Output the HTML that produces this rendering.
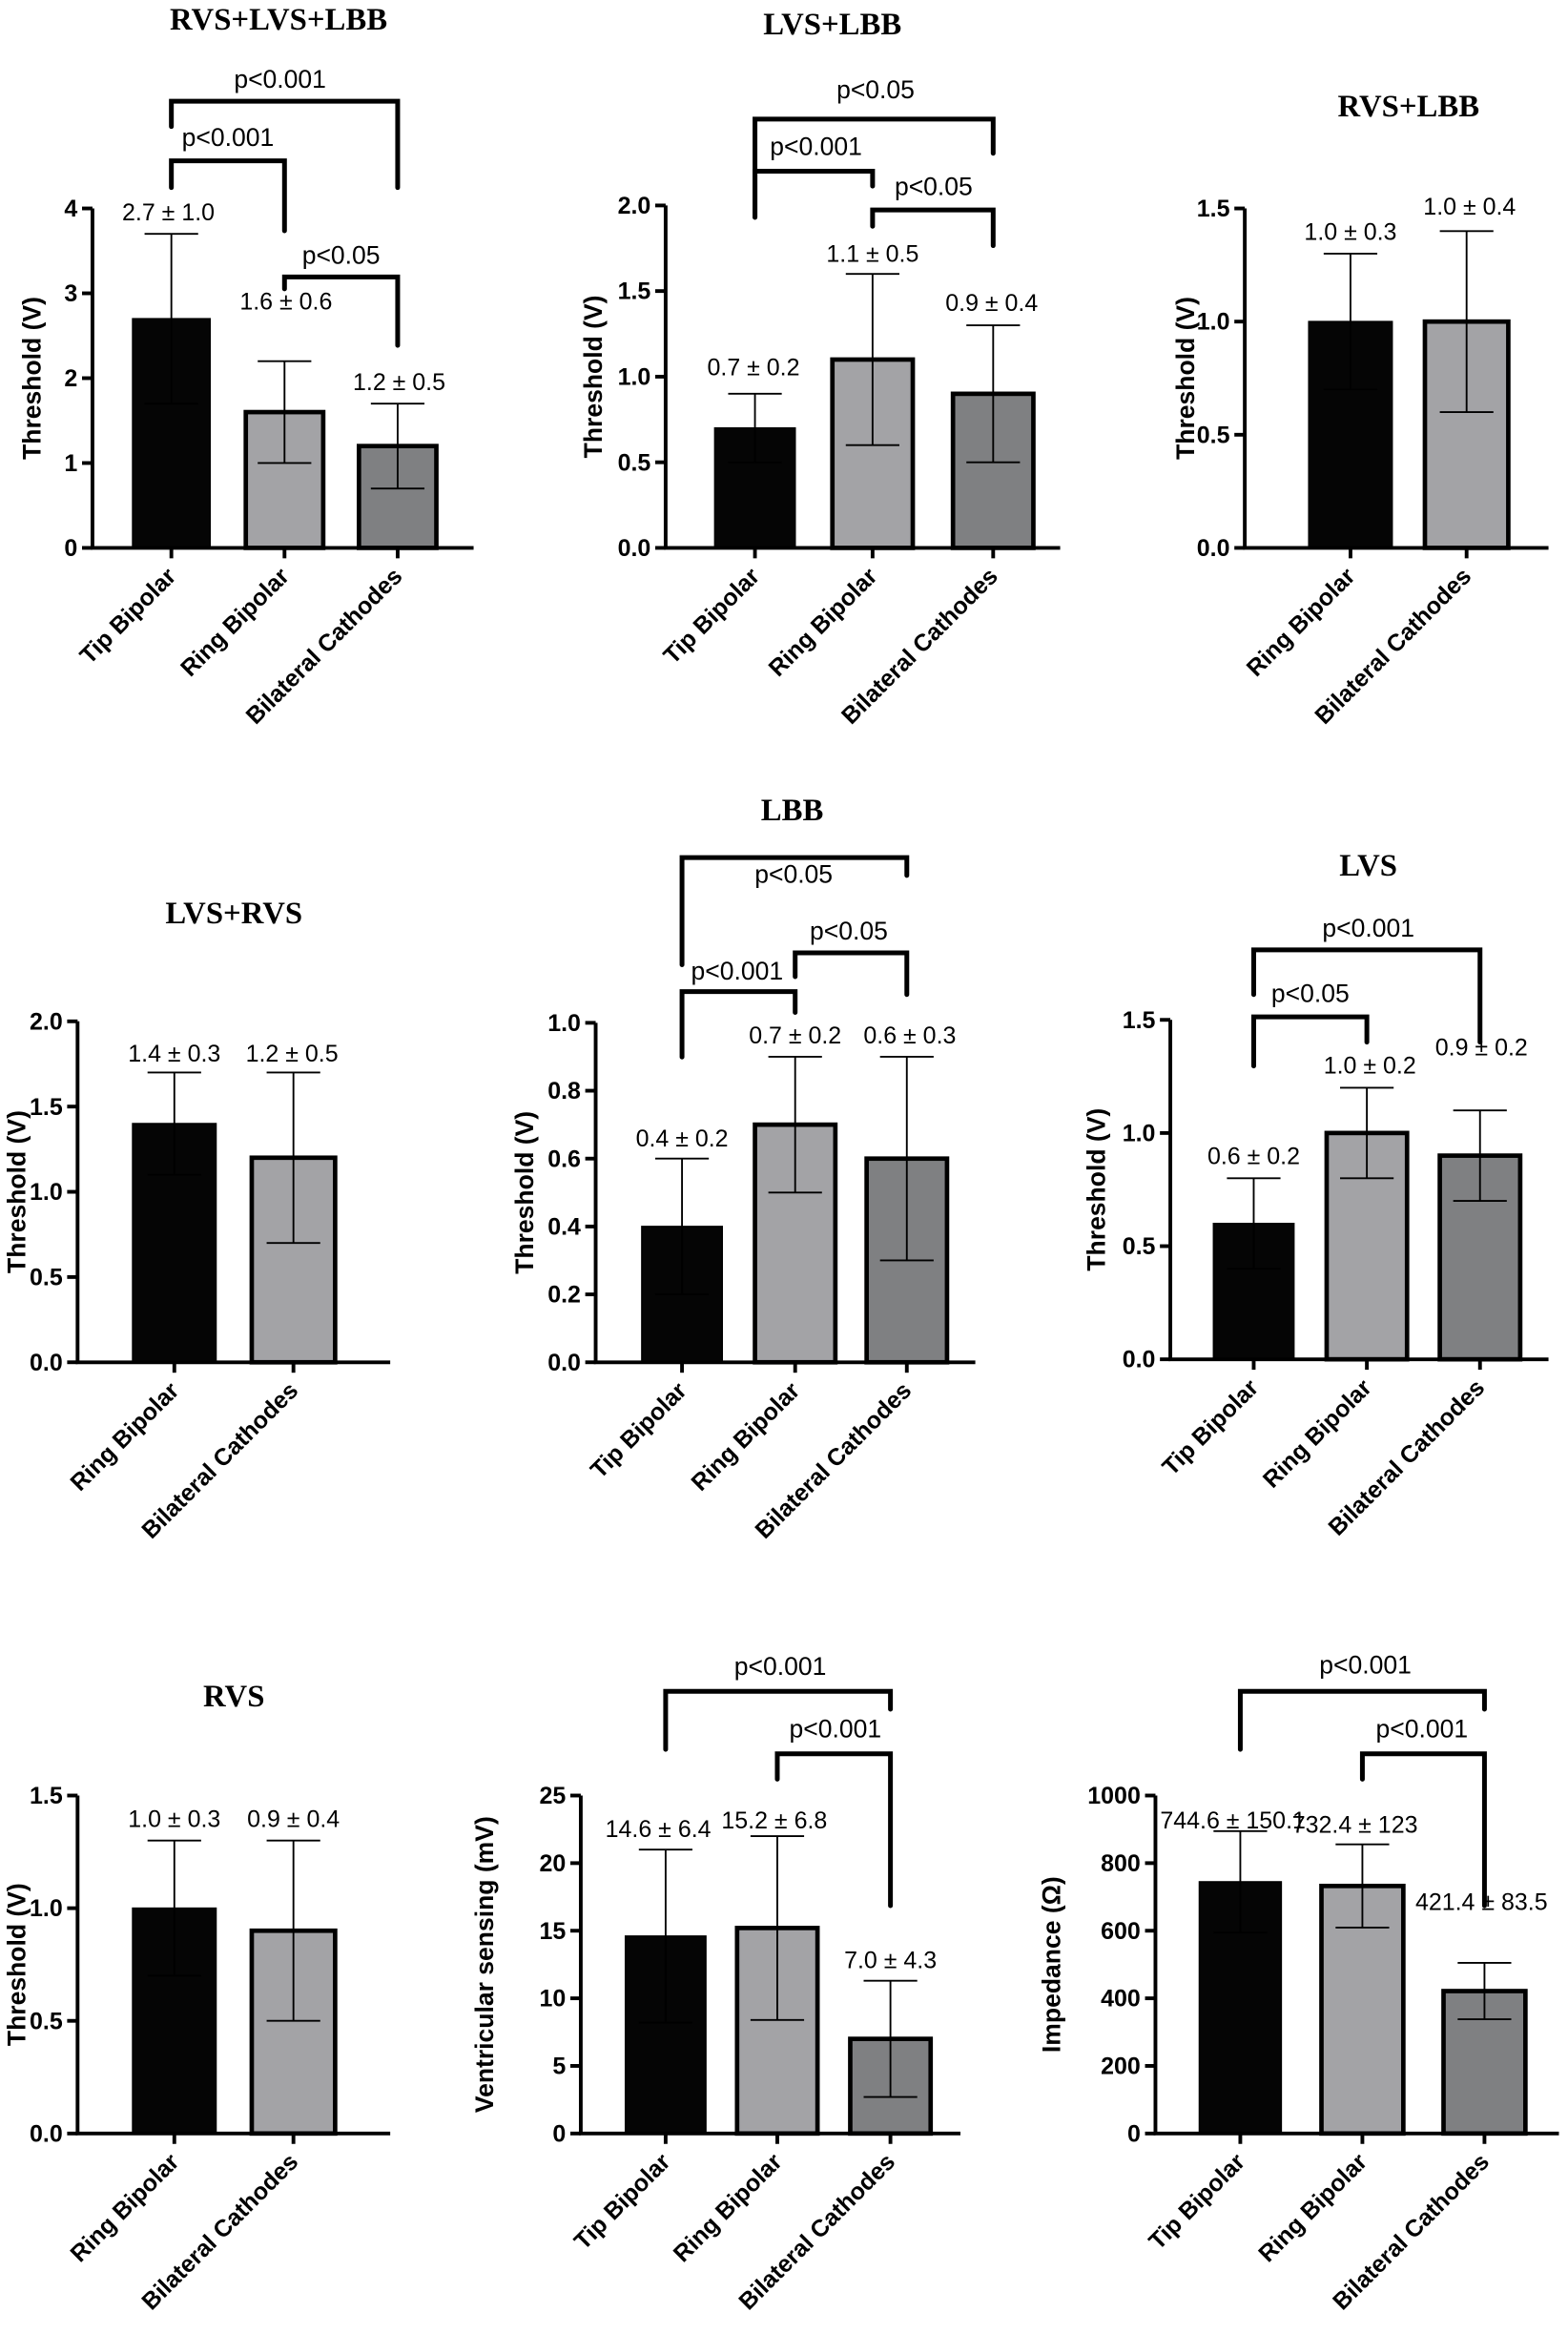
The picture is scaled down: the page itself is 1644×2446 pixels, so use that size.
<!DOCTYPE html>
<html><head><meta charset="utf-8"><style>html,body{margin:0;padding:0;background:#fff}svg{display:block}</style></head>
<body>
<svg id="fig" xmlns="http://www.w3.org/2000/svg" width="1644" height="2446" viewBox="0 0 1053 1567"></svg>
<script>
// ---- data ----
const p1Cats=["Tip Bipolar","Ring Bipolar","Bilateral Cathodes"];
const p1Means=[2.7,1.6,1.2];
const p1Sds=[1.0,0.6,0.5];
const p1Labels=["2.7 ± 1.0","1.6 ± 0.6","1.2 ± 0.5"];
const p1Ticks=["0","1","2","3","4"];
const p1P=["p<0.001","p<0.001","p<0.05"];

const p2Cats=["Tip Bipolar","Ring Bipolar","Bilateral Cathodes"];
const p2Means=[0.7,1.1,0.9];
const p2Sds=[0.2,0.5,0.4];
const p2Labels=["0.7 ± 0.2","1.1 ± 0.5","0.9 ± 0.4"];
const p2Ticks=["0.0","0.5","1.0","1.5","2.0"];
const p2P=["p<0.05","p<0.001","p<0.05"];

const p3Cats=["Ring Bipolar","Bilateral Cathodes"];
const p3Means=[1.0,1.0];
const p3Sds=[0.3,0.4];
const p3Labels=["1.0 ± 0.3","1.0 ± 0.4"];
const p3Ticks=["0.0","0.5","1.0","1.5"];

const p4Cats=["Ring Bipolar","Bilateral Cathodes"];
const p4Means=[1.4,1.2];
const p4Sds=[0.3,0.5];
const p4Labels=["1.4 ± 0.3","1.2 ± 0.5"];
const p4Ticks=["0.0","0.5","1.0","1.5","2.0"];

const p5Cats=["Tip Bipolar","Ring Bipolar","Bilateral Cathodes"];
const p5Means=[0.4,0.7,0.6];
const p5Sds=[0.2,0.2,0.3];
const p5Labels=["0.4 ± 0.2","0.7 ± 0.2","0.6 ± 0.3"];
const p5Ticks=["0.0","0.2","0.4","0.6","0.8","1.0"];
const p5P=["p<0.05","p<0.001","p<0.05"];

const p6Cats=["Tip Bipolar","Ring Bipolar","Bilateral Cathodes"];
const p6Means=[0.6,1.0,0.9];
const p6Sds=[0.2,0.2,0.2];
const p6Labels=["0.6 ± 0.2","1.0 ± 0.2","0.9 ± 0.2"];
const p6Ticks=["0.0","0.5","1.0","1.5"];
const p6P=["p<0.001","p<0.05"];

const p7Cats=["Ring Bipolar","Bilateral Cathodes"];
const p7Means=[1.0,0.9];
const p7Sds=[0.3,0.4];
const p7Labels=["1.0 ± 0.3","0.9 ± 0.4"];
const p7Ticks=["0.0","0.5","1.0","1.5"];

const p8Cats=["Tip Bipolar","Ring Bipolar","Bilateral Cathodes"];
const p8Means=[14.6,15.2,7.0];
const p8Sds=[6.4,6.8,4.3];
const p8Labels=["14.6 ± 6.4","15.2 ± 6.8","7.0 ± 4.3"];
const p8Ticks=["0","5","10","15","20","25"];
const p8P=["p<0.001","p<0.001"];

const p9Cats=["Tip Bipolar","Ring Bipolar","Bilateral Cathodes"];
const p9Means=[744.6,732.4,421.4];
const p9Sds=[150.1,123,83.5];
const p9Labels=["744.6 ± 150.1","732.4 ± 123","421.4 ± 83.5"];
const p9Ticks=["0","200","400","600","800","1000"];
const p9P=["p<0.001","p<0.001"];

// ---- drawing ----
const NS="http://www.w3.org/2000/svg";
const svg=document.getElementById('fig');
function mk(tag,attrs,parent,text){const e=document.createElementNS(NS,tag);for(const k in attrs)e.setAttribute(k,attrs[k]);if(text!==undefined)e.textContent=text;(parent||svg).appendChild(e);return e;}
const fills=["#050505","#a3a3a6","#7f8082"];
const SANS='"Liberation Sans", Arial, sans-serif';

function panel(o){
  const g=mk('g',{});
  
  
  const ymax=parseFloat(o.ticks[o.ticks.length-1]);
  const y=v=>o.y0-v/ymax*(o.y0-o.yTop);
  if(o.title){
    const t=mk('text',{x:o.titleX,y:o.titleY,'text-anchor':'middle','font-family':'"Liberation Serif", serif','font-weight':'bold','font-size':21},g,o.title);
    
    
  }
  o.means.forEach((m,i)=>{
    const cx=o.cx[i],w=o.bw;
    const fill=fills[i];
    const b=mk('rect',{x:cx-w/2,y:y(m),width:w,height:o.y0-y(m),fill:fill,stroke:'#000','stroke-width':i===0?1:3},g);
    
    
    const hi=y(m+o.sds[i]),lo=y(m-o.sds[i]);
    const e=mk('path',{d:`M${cx},${lo}V${hi}M${cx-18},${hi}H${cx+18}M${cx-18},${lo}H${cx+18}`,stroke:'#000','stroke-width':1.2,fill:'none'},g);
    
    
    const vl=mk('text',{x:o.lx[i],y:o.ly[i],'text-anchor':'middle','font-family':SANS,'font-size':16},g,o.labels[i]);
    
    
    const tk=mk('line',{x1:cx,x2:cx,y1:o.y0,y2:o.y0+7,stroke:'#000','stroke-width':2.5},g);
    
    
    const cl=mk('text',{x:cx+4,y:o.y0+20,'text-anchor':'end','font-family':SANS,'font-weight':'bold','font-size':16,transform:`rotate(-45 ${cx+4} ${o.y0+20})`},g,o.cats[i]);
    
    
  });
  const ax=mk('path',{d:`M${o.ax},${o.yTop}V${o.y0}H${o.xEnd}`,stroke:'#000','stroke-width':2.5,fill:'none'},g);
  
  
  o.ticks.forEach(tl=>{
    const v=parseFloat(tl),yy=y(v);
    const tk=mk('line',{x1:o.ax-7,x2:o.ax,y1:yy,y2:yy,stroke:'#000','stroke-width':2.5},g);
    
    
    const tx=mk('text',{x:o.ax-10,y:yy+5.5,'text-anchor':'end','font-family':SANS,'font-weight':'bold','font-size':16},g,tl);
    
    
  });
  const yl=mk('text',{x:o.ylx,y:(o.y0+o.yTop)/2,'text-anchor':'middle','font-family':SANS,'font-weight':'bold','font-size':17,transform:`rotate(-90 ${o.ylx} ${(o.y0+o.yTop)/2})`},g,o.ylabel);
  
  
  (o.br||[]).forEach((br,k)=>{
    const x1=o.cx[br.a],x2=o.cx[br.b];
    const p=mk('path',{d:`M${x1},${br.l}V${br.y}H${x2}V${br.r}`,stroke:'#000','stroke-width':3.2,fill:'none','stroke-linecap':'round'},g);
    
    
    const pt=mk('text',{x:br.tx,y:br.ty,'text-anchor':'middle','font-family':SANS,'font-size':17},g,o.p[k]);
    
    
  });
}

panel({name:'panel-rvs-lvs-lbb',title:'RVS+LVS+LBB',titleX:187,titleY:20,cats:p1Cats,means:p1Means,sds:p1Sds,labels:p1Labels,ticks:p1Ticks,p:p1P,
  ax:62,y0:368,yTop:140,xEnd:318,cx:[115,191,267],bw:52,lx:[113,192,268],ly:[148,208,262],ylx:27,ylabel:'Threshold (V)',
  br:[{a:0,b:2,y:68,l:85,r:126,tx:188,ty:59},{a:0,b:1,y:108,l:126,r:155,tx:153,ty:98},{a:1,b:2,y:186,l:194,r:232,tx:229,ty:177}]});
panel({name:'panel-lvs-lbb',title:'LVS+LBB',titleX:559,titleY:23,cats:p2Cats,means:p2Means,sds:p2Sds,labels:p2Labels,ticks:p2Ticks,p:p2P,
  ax:447,y0:368,yTop:138,xEnd:712,cx:[507,586,667],bw:54,lx:[506,586,666],ly:[252,176,209],ylx:404,ylabel:'Threshold (V)',
  br:[{a:0,b:2,y:80,l:146,r:103,tx:588,ty:66},{a:0,b:1,y:115,l:146,r:125,tx:548,ty:104},{a:1,b:2,y:141,l:152,r:165,tx:627,ty:131}]});
panel({name:'panel-rvs-lbb',title:'RVS+LBB',titleX:946,titleY:78,cats:p3Cats,means:p3Means,sds:p3Sds,labels:p3Labels,ticks:p3Ticks,
  ax:836,y0:368,yTop:140,xEnd:1040,cx:[907,985],bw:56,lx:[907,987],ly:[161,144],ylx:802,ylabel:'Threshold (V)'});
panel({name:'panel-lvs-rvs',title:'LVS+RVS',titleX:157,titleY:620,cats:p4Cats,means:p4Means,sds:p4Sds,labels:p4Labels,ticks:p4Ticks,
  ax:52,y0:915,yTop:686,xEnd:262,cx:[117,197],bw:56,lx:[117,196],ly:[713,713],ylx:17,ylabel:'Threshold (V)'});
panel({name:'panel-lbb',title:'LBB',titleX:532,titleY:551,cats:p5Cats,means:p5Means,sds:p5Sds,labels:p5Labels,ticks:p5Ticks,p:p5P,
  ax:400,y0:915,yTop:687,xEnd:655,cx:[458,534,609],bw:54,lx:[458,534,611],ly:[770,701,701],ylx:358,ylabel:'Threshold (V)',
  br:[{a:0,b:2,y:576,l:648,r:588,tx:533,ty:593},{a:0,b:1,y:666,l:710,r:680,tx:495,ty:658},{a:1,b:2,y:640,l:656,r:668,tx:570,ty:631}]});
panel({name:'panel-lvs',title:'LVS',titleX:919,titleY:588,cats:p6Cats,means:p6Means,sds:p6Sds,labels:p6Labels,ticks:p6Ticks,p:p6P,
  ax:786,y0:913,yTop:685,xEnd:1040,cx:[842,918,994],bw:54,lx:[842,920,995],ly:[782,721,709],ylx:742,ylabel:'Threshold (V)',
  br:[{a:0,b:2,y:638,l:668,r:700,tx:919,ty:629},{a:0,b:1,y:683,l:716,r:700,tx:880,ty:673}]});
panel({name:'panel-rvs',title:'RVS',titleX:157,titleY:1146,cats:p7Cats,means:p7Means,sds:p7Sds,labels:p7Labels,ticks:p7Ticks,
  ax:52,y0:1433,yTop:1206,xEnd:262,cx:[117,197],bw:56,lx:[117,197],ly:[1227,1227],ylx:17,ylabel:'Threshold (V)'});
panel({name:'panel-ventricular-sensing',title:'',titleX:0,titleY:0,cats:p8Cats,means:p8Means,sds:p8Sds,labels:p8Labels,ticks:p8Ticks,p:p8P,
  ax:390,y0:1433,yTop:1206,xEnd:645,cx:[447,522,598],bw:54,lx:[442,520,598],ly:[1234,1228,1322],ylx:331,ylabel:'Ventricular sensing (mV)',
  br:[{a:0,b:2,y:1136,l:1175,r:1148,tx:524,ty:1125},{a:1,b:2,y:1178,l:1195,r:1280,tx:561,ty:1167}]});
panel({name:'panel-impedance',title:'',titleX:0,titleY:0,cats:p9Cats,means:p9Means,sds:p9Sds,labels:p9Labels,ticks:p9Ticks,p:p9P,
  ax:776,y0:1433,yTop:1206,xEnd:1047,cx:[833,915,997],bw:55,lx:[828,910,995],ly:[1228,1231,1283],ylx:712,ylabel:'Impedance (Ω)',
  br:[{a:0,b:2,y:1136,l:1175,r:1148,tx:917,ty:1124},{a:1,b:2,y:1178,l:1195,r:1280,tx:955,ty:1167}]});
</script>
</body></html>
